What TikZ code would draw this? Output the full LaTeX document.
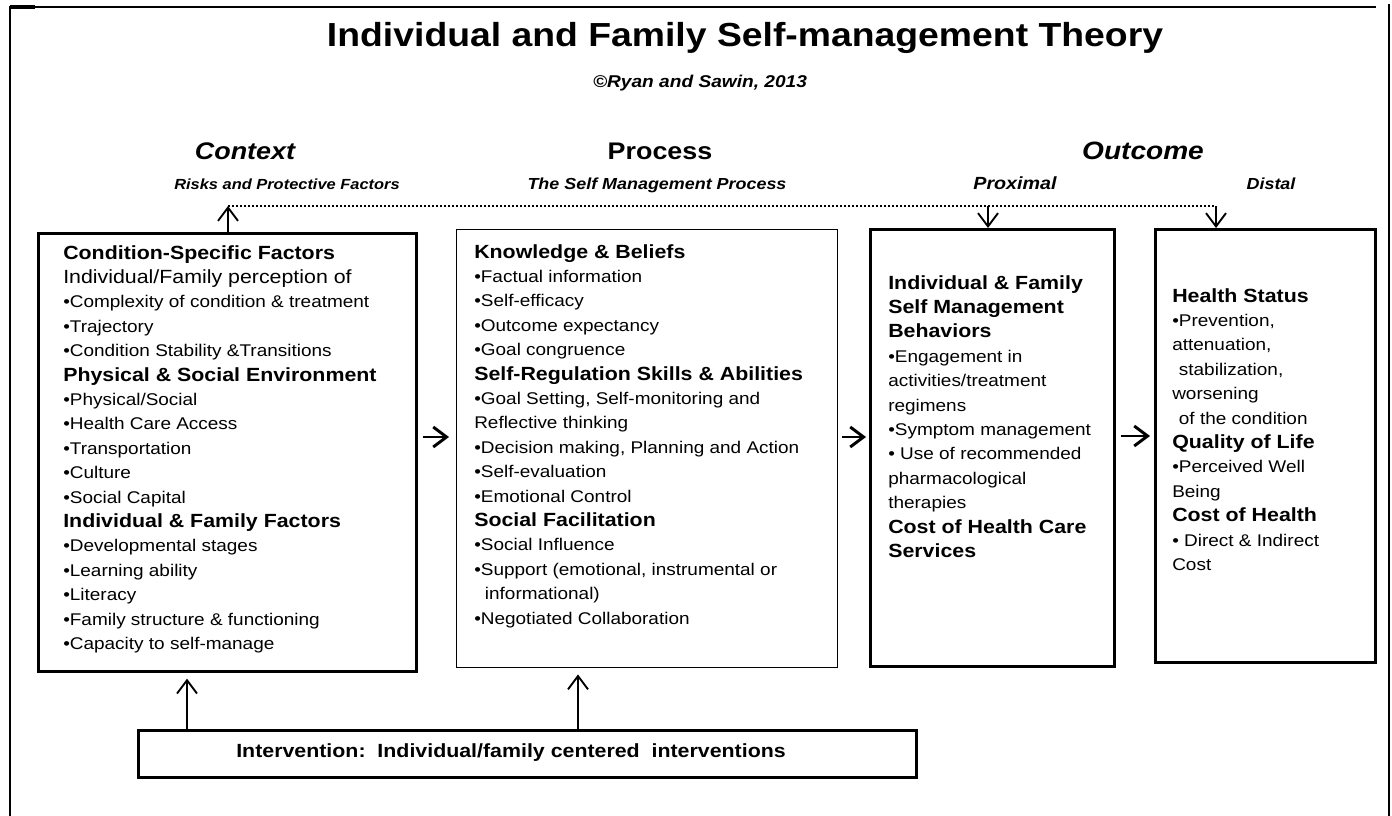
\documentclass[tikz,border=0pt]{standalone}
\usepackage{fontspec}
\setmainfont{Liberation Sans}[FakeStretch=1.12]
\usetikzlibrary{arrows.meta}
\newcommand{\boxhead}{\fontsize{14.3}{18.3}\selectfont\bfseries}

\begin{document}
\begin{tikzpicture}[x=0.75pt,y=-0.75pt,
  panel/.style={rectangle,draw=black,line width=2pt,inner sep=0pt,anchor=north west},
  body/.style={anchor=north west,inner sep=0pt,align=left,font=\fontsize{12.7}{18.3}\selectfont},
  colhead/.style={anchor=base,inner sep=0pt,font=\fontsize{18}{20}\selectfont\bfseries},
  subhead/.style={anchor=base,inner sep=0pt,font=\fontsize{12}{14}\selectfont\bfseries\itshape},
  flow/.style={line width=2.2pt,-{Straight Barb[length=10pt,width=15pt]}},
  link/.style={line width=1.4pt,-{Straight Barb[length=10pt,width=15pt]}},
  dotline/.style={line width=1.5pt,dash pattern=on 1.5pt off 1.5pt}]
\useasboundingbox (0,0) rectangle (1392,816);
\draw[line width=1.5pt] (10,816) -- (10,7) -- (1376,7);
\draw[line width=2.5pt] (10,7) -- (35,7);
\draw[line width=1.5pt] (1389,4) -- (1389,816);

\node at (745,47)[anchor=base,font=\fontsize{25}{30}\selectfont\bfseries](title){Individual and Family Self-management Theory};
\node at (700,88)[subhead,font=\fontsize{12.8}{15}\selectfont\bfseries\itshape](credit){©Ryan and Sawin, 2013};

\node at (245,160)[colhead,font=\fontsize{18}{20}\selectfont\bfseries\itshape](context){Context};
\node at (660,160)[colhead](process){Process};
\node at (1143,160)[colhead,font=\fontsize{18.8}{20}\selectfont\bfseries\itshape](outcome){Outcome};
\node at (287,190)[subhead,font=\fontsize{11}{13}\selectfont\bfseries\itshape](risks){Risks and Protective Factors};
\node at (657,190)[subhead](selfproc){The Self Management Process};
\node at (1015,190)[subhead,font=\fontsize{13.2}{15}\selectfont\bfseries\itshape](proximal){Proximal};
\node at (1271,190)[subhead](distal){Distal};

\node at (37,232)[panel,minimum width=283.5pt,minimum height=328.5pt](ctx){};
\node at (456,229)[panel,line width=1.1pt,minimum width=285.75pt,minimum height=328.5pt](prc){};
\node at (869,228)[panel,minimum width=183pt,minimum height=327.75pt](prox){};
\node at (1154,228)[panel,minimum width=165pt,minimum height=324.75pt](dist){};
\node at (137,729)[panel,minimum width=583.5pt,minimum height=35.25pt](intv){};

\node at (63,245)[body](ctxtext){{\boxhead Condition-Specific Factors}\\
{\fontsize{14.3}{18.3}\selectfont Individual/Family perception of}\\
•Complexity of condition \& treatment\\
•Trajectory\\
•Condition Stability \&Transitions\\
{\boxhead Physical \& Social Environment}\\
•Physical/Social\\
•Health Care Access\\
•Transportation\\
•Culture\\
•Social Capital\\
{\boxhead Individual \& Family Factors}\\
•Developmental stages\\
•Learning ability\\
•Literacy\\
•Family structure \& functioning\\
•Capacity to self-manage};

\node at (474,244)[body](prctext){{\boxhead Knowledge \& Beliefs}\\
•Factual information\\
•Self-efficacy\\
•Outcome expectancy\\
•Goal congruence\\
{\boxhead Self-Regulation Skills \& Abilities}\\
•Goal Setting, Self-monitoring and\\
Reflective thinking\\
•Decision making, Planning and Action\\
•Self-evaluation\\
•Emotional Control\\
{\boxhead Social Facilitation}\\
•Social Influence\\
•Support (emotional, instrumental or\\
\hspace*{8pt}informational)\\
•Negotiated Collaboration};

\node at (888,275)[body](proxtext){{\boxhead Individual \& Family}\\
{\boxhead Self Management}\\
{\boxhead Behaviors}\\
•Engagement in\\
activities/treatment\\
regimens\\
•Symptom management\\
• Use of recommended\\
pharmacological\\
therapies\\
{\boxhead Cost of Health Care}\\
{\boxhead Services}};

\node at (1172,288)[body](disttext){{\boxhead Health Status}\\
•Prevention,\\
attenuation,\\
\hspace*{5pt}stabilization,\\
worsening\\
\hspace*{5pt}of the condition\\
{\boxhead Quality of Life}\\
•Perceived Well\\
Being\\
{\boxhead Cost of Health}\\
• Direct \& Indirect\\
Cost};

\node at (511,757)[anchor=base,inner sep=0pt,font=\boxhead](intvtext){Intervention:\ \ Individual/family centered\ \ interventions};

\coordinate (ctxtop) at (228,206);
\coordinate (proxtop) at (988,206);
\coordinate (disttop) at (1216,206);
\draw[dotline] (ctxtop) -- (disttop);
\draw[link] (ctx.north -| ctxtop) -- (ctxtop);
\draw[link] (proxtop) -- (prox.north -| proxtop);
\draw[link] (disttop) -- (dist.north -| disttop);

\draw[flow,shorten <=3.75pt,shorten >=5.25pt] (ctx.east |- 0,437) -- (prc.west |- 0,437);
\draw[flow,shorten <=3pt,shorten >=2.25pt] (prc.east |- 0,437) -- (prox.west |- 0,437);
\draw[flow,shorten <=3.75pt,shorten >=3pt] (prox.east |- 0,436) -- (dist.west |- 0,436);
\draw[link,shorten >=4.5pt] (intv.north -| 187,0) -- (ctx.south -| 187,0);
\draw[link,shorten >=4.5pt] (intv.north -| 578,0) -- (prc.south -| 578,0);
\end{tikzpicture}
\end{document}
